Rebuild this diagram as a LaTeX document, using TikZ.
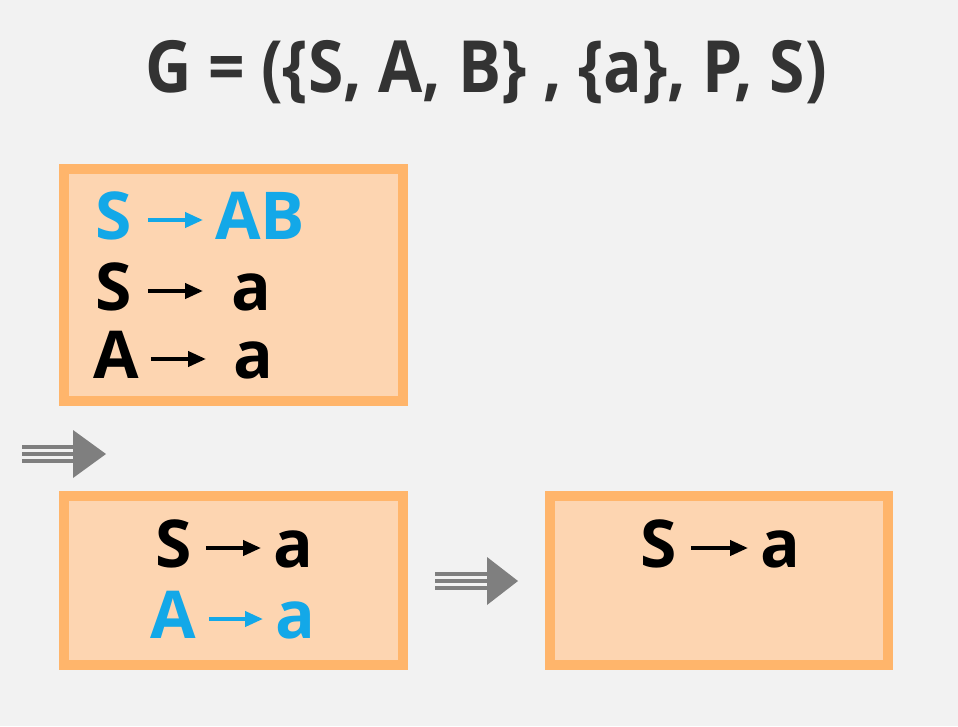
\documentclass[tikz,border=0pt]{standalone}
\usepackage{fontspec}
\usepackage{graphicx}
\setmainfont{Open Sans}
\usetikzlibrary{calc,arrows.meta}
\definecolor{bg}{HTML}{F2F2F2}
\definecolor{boxfill}{HTML}{FDD5B1}
\definecolor{boxline}{HTML}{FFB56B}
\definecolor{ruleblue}{HTML}{13A8E8}
\definecolor{titlegray}{HTML}{333333}
\definecolor{dblgray}{HTML}{7F7F7F}
\tikzset{
  prodbox/.style={draw=boxline, fill=boxfill, line width=10pt},
  sym/.style={anchor=base west, inner sep=0pt, font=\fontsize{66}{70}\selectfont\bfseries},
  prodarrow/.style={line width=4pt, -{Triangle[length=18pt,width=15pt]}},
  dblline/.style={draw=dblgray, line width=3.5pt},
  dblhead/.style={fill=dblgray},
}
\begin{document}
\begin{tikzpicture}[x=1pt,y=-1pt]
\fill[bg] (0,0) rectangle (958,726);
\useasboundingbox (0,0) rectangle (958,726);

% title
\node[anchor=base, inner sep=0pt, text=titlegray, font=\fontsize{72}{80}\selectfont\bfseries] (title) at (486,92) {\scalebox{0.89}[1]{G = (\{S, A, B\} , \{a\}, P, S)}};

% boxes
\draw[prodbox] (64,169) rectangle (403,401);
\draw[prodbox] (64,496) rectangle (403,665);
\draw[prodbox] (550,496) rectangle (888,665);

% box 1
\node[sym, text=ruleblue] (l1) at (95,239) {S};
\node[sym, text=ruleblue] (r1) at (215,239) {AB};
\draw[prodarrow, ruleblue] ($(l1.base east)+(16,-19)$) -- ($(r1.base west)+(-12,-19)$);
\node[sym] (l2) at (95,310) {S};
\node[sym] (r2) at (231,310) {a};
\draw[prodarrow] ($(l2.base east)+(16,-19)$) -- ($(r2.base west)+(-28,-19)$);
\node[sym] (l3) at (93,378) {A};
\node[sym] (r3) at (233,378) {a};
\draw[prodarrow] ($(l3.base east)+(12,-19)$) -- ($(r3.base west)+(-27,-19)$);

% box 2
\node[sym] (l4) at (155,567) {S};
\node[sym] (r4) at (273,567) {a};
\draw[prodarrow] ($(l4.base east)+(14,-19)$) -- ($(r4.base west)+(-12,-19)$);
\node[sym, text=ruleblue] (l5) at (150,638) {A};
\node[sym, text=ruleblue] (r5) at (275,638) {a};
\draw[prodarrow, ruleblue] ($(l5.base east)+(13,-19)$) -- ($(r5.base west)+(-12,-19)$);

% box 3
\node[sym] (l6) at (640,567) {S};
\node[sym] (r6) at (760,567) {a};
\draw[prodarrow] ($(l6.base east)+(14,-19)$) -- ($(r6.base west)+(-12,-19)$);

% double arrows
\draw[dblline] (22,447) -- (74,447);
\draw[dblline] (22,454) -- (74,454);
\draw[dblline] (22,461) -- (74,461);
\fill[dblhead] (73,430) -- (106,454) -- (73,478) -- cycle;

\draw[dblline] (435,574) -- (488,574);
\draw[dblline] (435,581) -- (488,581);
\draw[dblline] (435,588) -- (488,588);
\fill[dblhead] (487,557) -- (518,581) -- (487,605) -- cycle;
\end{tikzpicture}
\end{document}
